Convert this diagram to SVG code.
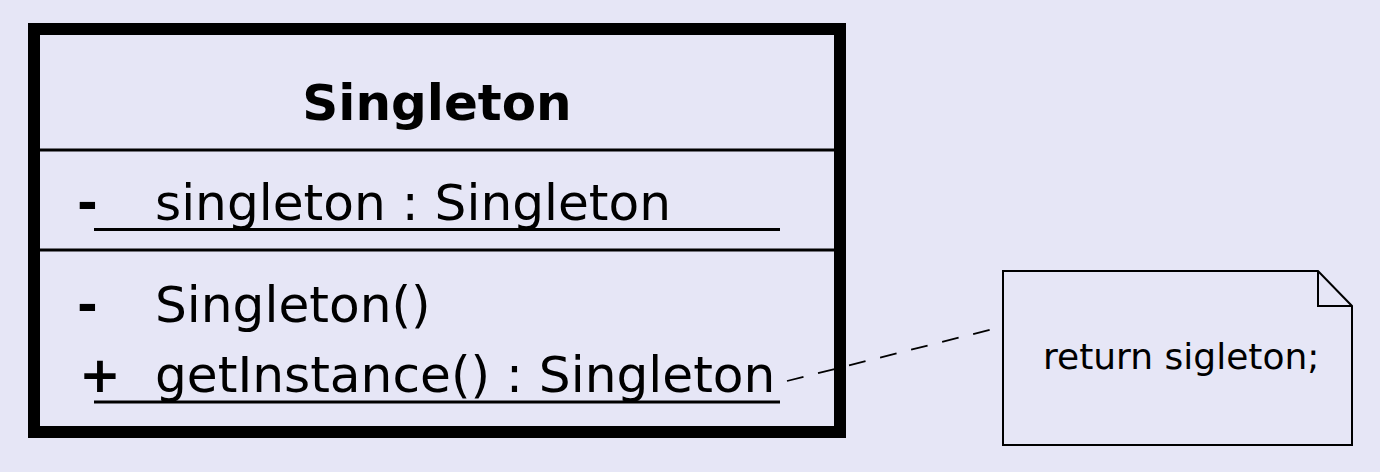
<svg xmlns="http://www.w3.org/2000/svg" width="1380" height="472" viewBox="0 0 1380 472">
<style>
.t{font-family:"DejaVu Sans",sans-serif;fill:#000}
.b{font-weight:bold}
.ln{stroke:#000;fill:none}
</style>
<rect x="0" y="0" width="1380" height="472" fill="#e6e6f6"/>
<g id="connectors">
<line class="ln" x1="787" y1="381" x2="993" y2="329" stroke-width="1.8" stroke-dasharray="17 15"/>
</g>
<g id="singleton">
<rect class="ln" x="34" y="29" width="806" height="403" stroke-width="12"/>
<line class="ln" x1="40" y1="150" x2="834" y2="150" stroke-width="3"/>
<line class="ln" x1="40" y1="250" x2="834" y2="250" stroke-width="3"/>
<text class="t b" x="437" y="120" font-size="50" text-anchor="middle">Singleton</text>
<text class="t b" x="77" y="220" font-size="50">-</text>
<text class="t" x="155" y="220" font-size="50.2">singleton : Singleton</text>
<line class="ln" x1="94" y1="229.5" x2="780" y2="229.5" stroke-width="3"/>
<text class="t b" x="77" y="322" font-size="50">-</text>
<text class="t" x="155" y="322" font-size="50.2">Singleton()</text>
<text class="t b" x="79" y="392" font-size="50">+</text>
<text class="t" x="155" y="392" font-size="50.2">getInstance() : Singleton</text>
<line class="ln" x1="94" y1="402" x2="780" y2="402" stroke-width="3"/>
</g>
<g id="note">
<path class="ln" d="M1003 271 H1318 L1352 306 V445 H1003 Z" fill="#e6e6f6" stroke-width="2"/>
<path class="ln" d="M1318 271 V306 H1352" stroke-width="2"/>
<text class="t" x="1043" y="369" font-size="36">return sigleton;</text>
</g>
</svg>
